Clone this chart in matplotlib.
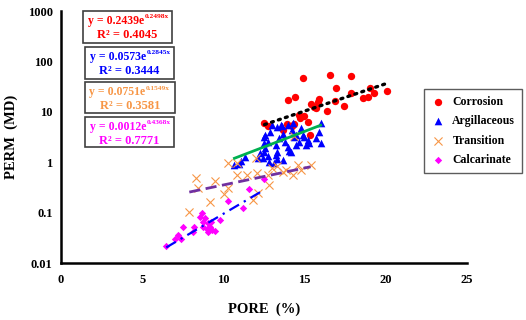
import numpy as np
import matplotlib
matplotlib.use('Agg')
import matplotlib.pyplot as plt
from matplotlib.patches import Rectangle
from matplotlib.ticker import FixedLocator, FuncFormatter, NullLocator

plt.rcParams['font.family'] = ['Liberation Serif', 'DejaVu Serif']
plt.rcParams['font.weight'] = 'bold'

# ---------- 数据 ----------
corr_x = [12.53, 12.72, 13.64, 13.94, 14.32, 15.31, 15.19, 14.94, 14.69, 14.63,
          13.95, 14.38, 14.88, 16.54, 17.84, 16.91, 17.84, 15.56, 15.80, 15.86,
          15.68, 16.36, 17.41, 16.85, 18.58, 18.89, 19.01, 19.26, 20.06, 15.37, 14.20]
corr_y = [5.94, 5.18, 4.31, 5.68, 5.68, 3.43, 6.22, 8.18, 7.46, 8.56,
          17.0, 19.5, 46.4, 53.2, 50.8, 29.4, 23.4, 12.3, 15.5, 17.8,
          11.8, 10.3, 12.9, 16.2, 18.6, 19.5, 29.4, 23.4, 25.6, 14.2, 5.18]

argi_x = [10.68, 10.93, 11.11, 11.36, 12.10, 12.28, 12.41, 12.78, 13.09, 13.33,
          13.64, 12.72, 12.47, 13.21, 12.47, 12.59, 12.90, 12.72, 12.47, 13.21,
          13.40, 13.64, 13.77, 13.95, 14.14, 14.32, 14.44, 14.63, 14.88, 15.06,
          15.25, 15.68, 15.86, 15.99, 14.44, 14.75, 13.95, 14.26, 13.52, 13.02,
          13.27, 13.58, 14.20, 14.94, 15.19, 15.99, 12.59, 13.27, 14.01]
argi_y = [0.872, 0.913, 1.05, 1.26, 1.20, 1.51, 1.20, 1.00, 0.955, 1.15,
          1.10, 1.32, 1.58, 1.38, 3.13, 3.43, 3.94, 2.49, 2.38, 2.17,
          2.99, 3.59, 2.49, 1.98, 1.58, 3.13, 2.17, 2.49, 3.43, 2.17,
          2.38, 2.99, 3.94, 2.38, 3.43, 4.73, 5.42, 5.94, 5.42, 5.42,
          4.95, 5.18, 4.31, 3.13, 2.73, 5.94, 1.90, 1.58, 1.65]

tran_x = [10.31, 10.86, 10.86, 11.48, 12.04, 8.33, 8.46, 9.51, 10.31, 10.06,
          9.20, 7.90, 12.16, 11.85, 12.72, 12.78, 11.98, 13.33, 13.83, 14.26,
          14.57, 14.75, 15.37, 13.64, 13.02, 14.32]
tran_y = [0.955, 0.955, 0.552, 0.552, 0.605, 0.481, 0.305, 0.420, 0.305, 0.232,
          0.161, 0.102, 0.243, 0.176, 0.552, 0.350, 1.20, 0.833, 0.694, 0.552,
          0.872, 0.694, 0.872, 0.634, 0.760, 3.28]

calc_x = [6.48, 7.04, 7.22, 7.41, 7.53, 8.15, 8.21, 8.70, 8.58, 8.89,
          8.77, 9.07, 8.77, 9.01, 9.20, 9.32, 9.51, 9.07, 9.26, 9.81,
          10.31, 11.23, 11.60, 12.47]
calc_y = [0.0216, 0.0297, 0.0356, 0.0297, 0.0513, 0.0408, 0.0513, 0.0973, 0.0811, 0.0774,
          0.0645, 0.0616, 0.0513, 0.0469, 0.0513, 0.0448, 0.0428, 0.0408, 0.0645, 0.0707,
          0.168, 0.122, 0.291, 0.460]

# 拟合公式系数 (a, b) : y = a * exp(b x)
fit_corr = (0.2439, 0.2498)
fit_argi = (0.0573, 0.2845)
fit_tran = (0.0751, 0.1549)
fit_calc = (0.0012, 0.4368)
r2_vals = ['0.4045', '0.3444', '0.3581', '0.7771']

x_ticks = [0, 5, 10, 15, 20, 25]
y_ticks = [0.01, 0.1, 1, 10, 100, 1000]

# ---------- 画布 ----------
W, H = 526, 320
fig = plt.figure(figsize=(W / 100, H / 100), dpi=100)
ax = fig.add_axes([61 / W, 1 - 263 / H, (467 - 61) / W, (263 - 11) / H])
ax.set_yscale('log')
ax.set_xlim(0, 25)
ax.set_ylim(0.01, 1000)

red = '#ff0000'
blue = '#0000ff'
orange = '#f79646'
magenta = '#ff00ff'

# ---------- 趋势线 ----------
def trend(fit, xs):
    xx = np.linspace(min(xs), max(xs), 50)
    return xx, fit[0] * np.exp(fit[1] * xx)

xx, yy = trend(fit_corr, corr_x)
ax.plot(xx, yy, color='black', lw=2.4, ls=(0, (0.6, 1.6)), dash_capstyle='round', zorder=3)
xx, yy = trend(fit_argi, argi_x)
ax.plot(xx, yy, color='#00b050', lw=2, zorder=3)
xx, yy = trend(fit_tran, tran_x)
ax.plot(xx, yy, color='#7030a0', lw=2, ls=(0, (4, 2)), zorder=3)
xx, yy = trend(fit_calc, calc_x)
ax.plot(xx, yy, color=blue, lw=1.6, ls=(0, (5, 2.5, 1, 2.5)), zorder=3)

# ---------- 散点 ----------
ax.scatter(corr_x, corr_y, s=28, color=red, marker='o', lw=0, label='Corrosion', zorder=2)
ax.scatter(argi_x, argi_y, s=30, color=blue, marker='^', lw=0, label='Argillaceous', zorder=2)
ax.scatter(tran_x, tran_y, s=34, color=orange, marker='x', lw=0.8, label='Transition', zorder=2)
ax.scatter(calc_x, calc_y, s=14, color=magenta, marker='D', lw=0, label='Calcarinate', zorder=2)

# ---------- 坐标轴 ----------
for s in ['top', 'right']:
    ax.spines[s].set_visible(False)
for s in ['left', 'bottom']:
    ax.spines[s].set_linewidth(1.8)
ax.xaxis.set_major_locator(FixedLocator(x_ticks))
ax.yaxis.set_major_locator(FixedLocator(y_ticks))
ax.yaxis.set_minor_locator(NullLocator())
ax.yaxis.set_major_formatter(FuncFormatter(lambda v, p: '%g' % v))
ax.tick_params(length=0, labelsize=9)
ax.tick_params(axis='x', pad=8)
ax.tick_params(axis='y', pad=6)

# 轴标题直接按像素位置放置
fig.text(264 / W, 1 - 309 / H, 'PORE  (%)', fontsize=10.5, fontweight='bold',
         ha='center', va='center')
fig.text(11 / W, 1 - 137 / H, 'PERM  (MD)', fontsize=10.5, fontweight='bold',
         ha='center', va='center', rotation=90)

# ---------- 图例 ----------
leg = fig.legend(loc='upper left', bbox_to_anchor=(424 / W, 1 - 89 / H),
                 fancybox=False, edgecolor='#333333', fontsize=8.5,
                 labelspacing=0.62, handletextpad=0.6, borderpad=0.6,
                 handlelength=1.2, borderaxespad=0, scatterpoints=1)
leg.get_frame().set_linewidth(1.0)

# ---------- 公式框 ----------
boxes = [(83, 11, 172, 43, 144, red, fit_corr),
         (85, 47, 174, 79, 146, blue, fit_argi),
         (85, 82, 175, 113, 145, orange, fit_tran),
         (85, 117, 174, 147, 146, magenta, fit_calc)]
for (x0, y0, x1, y1, xe, c, fit), r2 in zip(boxes, r2_vals):
    fig.patches.append(Rectangle((x0 / W, 1 - y1 / H), (x1 - x0) / W, (y1 - y0) / H,
                                 transform=fig.transFigure, fill=False,
                                 ec='#404040', lw=1.2))
    fig.text(xe / W, 1 - (y0 + 10) / H, 'y = %.4fe' % fit[0], color=c, fontsize=8.5,
             fontweight='bold', ha='right', va='center')
    fig.text((xe + 0.5) / W, 1 - (y0 + 6) / H, '%.4fx' % fit[1], color=c, fontsize=5.3,
             fontweight='bold', ha='left', va='center')
    fig.text((x0 + x1) / 2 / W, 1 - (y0 + 24) / H, 'R\u00b2 = ' + r2, color=c, fontsize=9,
             fontweight='bold', ha='center', va='center')

fig.savefig('out.png', dpi=100)
